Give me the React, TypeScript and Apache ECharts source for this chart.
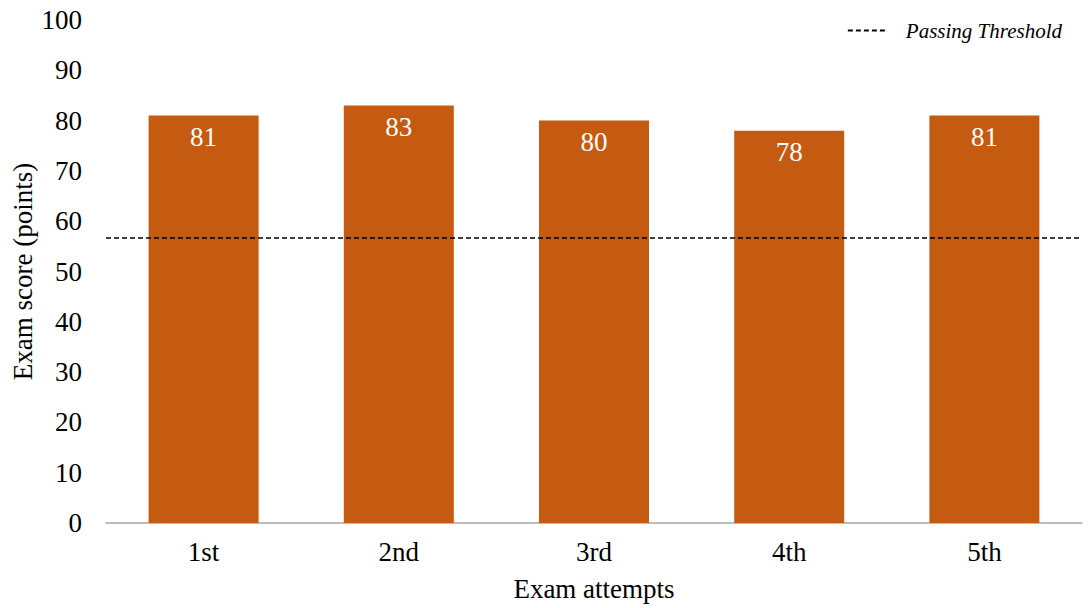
import React, { useEffect, useRef } from "react";
import * as echarts from "echarts";

const attempts = ["1st", "2nd", "3rd", "4th", "5th"];
const scores = [81, 83, 80, 78, 81];
const passingThreshold = 56.7;
const yTicks = { min: 0, max: 100, interval: 10 };

const FONT = "'Liberation Serif', 'Times New Roman', serif";
const TEXT_SIZE = 27;

export default function App() {
  const ref = useRef<HTMLDivElement>(null);

  useEffect(() => {
    if (!ref.current) return;
    const chart = echarts.init(ref.current, null, { renderer: "svg" });
    chart.setOption({
      animation: false,
      backgroundColor: "#ffffff",
      grid: { left: 106, right: 7, top: 20, bottom: 85, outerBoundsMode: "none" },
      legend: {
        right: 22,
        top: 15,
        data: ["Passing Threshold"],
        itemWidth: 38,
        itemHeight: 12,
        itemGap: 10,
        itemStyle: { color: "transparent", borderWidth: 0, opacity: 0 },
        textStyle: {
          fontFamily: FONT,
          fontSize: 21,
          fontStyle: "italic",
          color: "#000",
          padding: [0, 0, 0, 15],
        },
      },
      xAxis: {
        type: "category",
        data: attempts,
        name: "Exam attempts",
        nameLocation: "middle",
        nameGap: 52,
        nameMoveOverlap: false,
        nameTextStyle: { fontFamily: FONT, fontSize: TEXT_SIZE, color: "#000" },
        axisLine: { lineStyle: { color: "#a6a6a6", width: 1.5 } },
        axisTick: { show: false },
        axisLabel: { fontFamily: FONT, fontSize: TEXT_SIZE, color: "#000", margin: 15 },
      },
      yAxis: {
        type: "value",
        min: yTicks.min,
        max: yTicks.max,
        interval: yTicks.interval,
        name: "Exam score (points)",
        nameLocation: "middle",
        nameGap: 70,
        nameMoveOverlap: false,
        nameTextStyle: { fontFamily: FONT, fontSize: TEXT_SIZE, color: "#000" },
        axisLine: { show: false },
        axisTick: { show: false },
        splitLine: { show: false },
        axisLabel: { fontFamily: FONT, fontSize: TEXT_SIZE, color: "#000", margin: 24 },
      },
      series: [
        {
          type: "bar",
          name: "Score",
          data: scores,
          barWidth: 110,
          itemStyle: { color: "#C55A11" },
          label: {
            show: true,
            position: "insideTop",
            distance: 8,
            color: "#ffffff",
            fontFamily: FONT,
            fontSize: TEXT_SIZE,
          },
        },
        {
          type: "line",
          name: "Passing Threshold",
          data: [],
          symbol: "none",
          itemStyle: { color: "#000" },
          lineStyle: { color: "#000", type: [5, 3], width: 1.3 },
          markLine: {
            silent: true,
            symbol: "none",
            label: { show: false },
            lineStyle: { color: "#000", type: [5, 3], width: 1.5 },
            data: [{ yAxis: passingThreshold }],
          },
        },
      ],
    });
    return () => chart.dispose();
  }, []);

  return (
    <div
      ref={ref}
      style={{ position: "fixed", left: 0, top: 0, width: 1089, height: 608, background: "#fff" }}
    />
  );
}
